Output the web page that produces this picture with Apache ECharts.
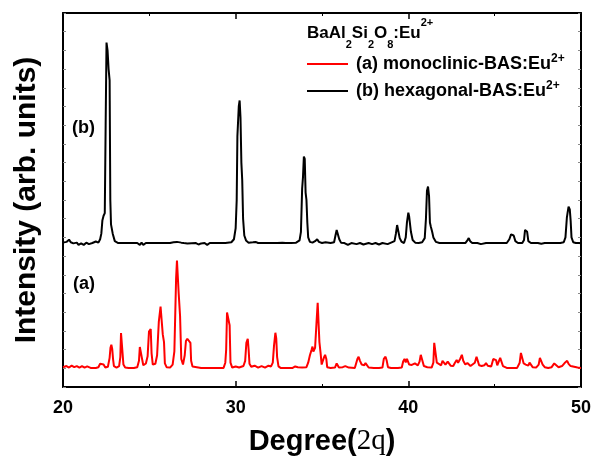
<!DOCTYPE html>
<html>
<head>
<meta charset="utf-8">
<script src="https://cdn.jsdelivr.net/npm/echarts@6/dist/echarts.min.js"></script>
<style>
  html, body { margin: 0; padding: 0; background: #fff; }
  #chart { width: 593px; height: 456px; }
</style>
</head>
<body>
<div id="chart"></div>
<script>
// x range (degree 2theta) and tick labels
const degreeTicks = [20, 30, 40, 50];

// (a) monoclinic-BAS:Eu2+ pattern, [degree, intensity] (offset as in the figure)
const monoclinic = [
  [20.0,5.3],[20.2,5.6],[20.35,5.2],[20.5,5.7],[20.65,5.3],[20.8,5.6],[20.95,5.2],[21.1,5.6],[21.25,5.2],[21.4,5.5],
  [21.6,5.1],[21.9,5.1],[22.05,5.3],[22.15,6.2],[22.25,6.5],[22.35,6.0],[22.45,5.2],[22.6,5.4],[22.7,7.8],[22.75,10.5],
  [22.8,11.3],[22.85,10.2],[22.9,7.4],[22.95,5.6],[23.1,5.2],[23.25,5.6],[23.32,8.0],[23.36,14.4],[23.45,14.4],[23.5,6.0],
  [23.6,5.2],[23.8,5.1],[24.1,5.1],[24.3,5.3],[24.4,7.0],[24.45,10.7],[24.52,10.5],[24.58,7.5],[24.65,5.8],[24.8,6.3],
  [24.9,8.2],[24.98,14.8],[25.08,15.5],[25.13,9.0],[25.2,6.0],[25.35,6.2],[25.45,8.5],[25.55,17.5],[25.65,21.5],[25.72,21.2],
  [25.78,14.0],[25.85,12.0],[25.9,6.3],[26.0,5.3],[26.2,5.2],[26.35,6.0],[26.45,9.5],[26.55,29.0],[26.6,33.8],[26.65,33.8],
  [26.7,25.0],[26.78,19.0],[26.85,7.5],[26.95,6.0],[27.05,8.5],[27.12,12.3],[27.2,12.9],[27.3,12.6],[27.38,11.8],[27.42,7.0],
  [27.5,5.5],[27.6,5.2],[28.0,5.1],[28.6,5.1],[29.3,5.1],[29.4,6.5],[29.45,10.0],[29.5,19.9],[29.6,19.5],[29.65,16.5],
  [29.7,6.5],[29.8,5.2],[30.0,5.5],[30.2,5.2],[30.45,5.6],[30.55,7.0],[30.62,11.8],[30.7,12.9],[30.75,10.0],[30.8,6.2],
  [30.9,5.4],[31.1,5.7],[31.3,5.2],[31.5,5.6],[31.7,5.2],[31.9,5.7],[32.05,5.5],[32.15,6.5],[32.22,11.0],[32.3,14.5],
  [32.35,13.0],[32.4,8.0],[32.48,5.5],[32.6,5.1],[33.0,5.1],[33.3,5.1],[33.45,5.5],[33.6,5.3],[33.85,5.2],[34.1,5.3],
  [34.2,6.5],[34.3,8.5],[34.4,10.0],[34.45,10.8],[34.5,9.5],[34.6,10.5],[34.68,17.0],[34.75,22.5],[34.8,22.0],[34.85,12.0],
  [34.92,9.0],[34.98,6.0],[35.05,5.6],[35.12,8.0],[35.18,8.6],[35.25,7.5],[35.3,5.3],[35.5,5.1],[35.75,5.2],[35.85,6.3],
  [35.92,6.3],[35.98,5.2],[36.2,5.3],[36.35,5.6],[36.45,5.6],[36.55,5.2],[36.9,5.1],[37.0,5.5],[37.05,7.5],[37.12,8.1],
  [37.2,7.0],[37.3,6.0],[37.45,5.8],[37.52,6.4],[37.6,6.0],[37.7,5.2],[38.0,5.1],[38.3,5.1],[38.5,5.2],[38.58,7.5],
  [38.68,8.1],[38.75,7.0],[38.82,5.3],[39.0,5.1],[39.4,5.1],[39.62,5.2],[39.7,6.8],[39.78,7.5],[39.85,6.6],[39.92,7.5],
  [40.0,7.4],[40.05,6.0],[40.2,5.9],[40.3,5.6],[40.38,6.3],[40.45,6.5],[40.55,5.8],[40.65,6.8],[40.72,8.6],[40.82,8.4],
  [40.9,5.6],[41.1,5.3],[41.35,5.2],[41.45,6.5],[41.5,11.8],[41.6,11.6],[41.65,6.5],[41.75,6.0],[41.9,5.8],[41.98,7.0],
  [42.05,7.2],[42.15,6.0],[42.28,6.8],[42.35,6.5],[42.45,5.7],[42.6,5.6],[42.7,6.5],[42.8,7.2],[42.88,6.5],[43.0,7.5],
  [43.1,8.6],[43.18,7.0],[43.3,6.0],[43.42,6.4],[43.5,6.0],[43.6,5.6],[43.85,6.5],[43.95,8.1],[44.02,7.6],[44.1,5.8],
  [44.25,5.6],[44.4,5.8],[44.5,6.4],[44.6,5.7],[44.8,5.5],[44.92,7.5],[45.0,8.0],[45.08,7.2],[45.15,5.8],[45.25,6.0],
  [45.32,7.8],[45.4,7.5],[45.48,5.6],[45.7,5.1],[46.3,5.1],[46.45,6.5],[46.52,9.1],[46.6,8.8],[46.68,6.3],[46.8,6.0],
  [46.95,5.7],[47.02,6.5],[47.1,6.2],[47.2,5.3],[47.4,5.2],[47.55,6.0],[47.62,7.8],[47.7,8.1],[47.78,6.0],[47.9,5.3],
  [48.1,5.1],[48.3,5.3],[48.45,6.3],[48.55,6.0],[48.7,5.3],[48.9,5.6],[49.05,6.4],[49.12,6.0],[49.2,7.0],[49.28,6.2],
  [49.4,5.6],[49.5,5.9],[49.6,5.4],[49.8,5.2],[50.0,5.1]
];

// (b) hexagonal-BAS:Eu2+ pattern, [degree, intensity] (offset as in the figure)
const hexagonal = [
  [20.0,38.6],[20.2,38.8],[20.35,39.4],[20.45,38.7],[20.6,38.4],[20.8,38.6],[20.9,38.0],[21.05,38.4],[21.2,38.0],[21.35,38.6],
  [21.5,38.2],[21.7,38.5],[21.9,38.9],[22.05,38.6],[22.15,39.5],[22.22,41.0],[22.28,44.5],[22.35,45.8],[22.42,46.5],[22.47,70.0],
  [22.52,92.1],[22.58,90.0],[22.64,85.0],[22.7,82.0],[22.74,50.0],[22.78,43.5],[22.88,41.0],[23.0,39.0],[23.2,38.5],[23.6,38.5],
  [24.0,38.5],[24.3,38.5],[24.45,38.0],[24.55,38.6],[24.65,38.0],[24.8,38.5],[25.2,38.5],[25.5,38.5],[25.6,39.0],[25.7,38.5],
  [26.2,38.5],[26.4,38.7],[26.5,39.2],[26.6,38.8],[26.7,39.2],[26.85,38.6],[27.0,38.5],[27.2,38.4],[27.7,38.5],[27.85,38.1],
  [28.0,38.4],[28.2,38.5],[28.35,38.0],[28.5,38.5],[28.7,38.5],[29.0,38.5],[29.4,38.5],[29.75,38.7],[29.9,39.5],[30.0,42.5],
  [30.06,50.0],[30.1,67.0],[30.18,75.0],[30.23,76.6],[30.28,72.0],[30.33,60.0],[30.38,55.3],[30.43,45.0],[30.5,40.5],[30.6,39.2],
  [30.75,38.6],[30.85,39.1],[31.0,38.7],[31.15,38.8],[31.3,38.5],[31.6,38.5],[32.0,38.5],[32.4,38.5],[32.5,38.3],[32.7,38.6],
  [32.8,38.2],[32.9,38.5],[33.2,38.5],[33.5,38.6],[33.7,39.2],[33.78,41.5],[33.85,53.0],[33.9,56.2],[33.95,61.6],[34.0,61.0],
  [34.05,52.0],[34.1,50.0],[34.15,44.0],[34.2,40.0],[34.3,38.8],[34.45,38.6],[34.6,39.0],[34.72,39.5],[34.82,38.8],[35.0,38.5],
  [35.2,38.7],[35.3,38.3],[35.5,38.5],[35.7,38.7],[35.78,40.5],[35.85,42.0],[35.92,41.8],[36.0,39.5],[36.1,38.6],[36.3,38.5],
  [36.5,38.0],[36.7,38.5],[37.0,38.2],[37.2,38.5],[37.4,38.1],[37.7,38.5],[37.9,38.2],[38.1,38.5],[38.3,38.1],[38.5,38.5],
  [38.8,38.2],[39.0,38.6],[39.2,39.0],[39.28,41.0],[39.35,43.3],[39.42,43.0],[39.5,39.8],[39.6,38.9],[39.75,38.5],[39.85,40.0],
  [39.92,44.0],[40.0,46.6],[40.05,45.5],[40.1,45.2],[40.15,41.5],[40.25,39.3],[40.4,38.6],[40.6,38.5],[40.8,38.7],[40.95,39.8],
  [41.02,45.0],[41.08,52.5],[41.14,53.6],[41.2,51.0],[41.25,44.0],[41.3,42.9],[41.38,41.5],[41.45,40.0],[41.6,38.8],[41.8,38.5],
  [42.2,38.5],[42.6,38.5],[43.0,38.5],[43.3,38.5],[43.42,39.2],[43.5,39.8],[43.58,39.0],[43.7,38.5],[44.0,38.5],[44.2,38.2],
  [44.5,38.5],[44.9,38.5],[45.3,38.5],[45.7,38.5],[45.85,39.5],[45.95,40.8],[46.03,41.3],[46.1,40.5],[46.2,39.0],[46.35,38.5],
  [46.6,38.5],[46.7,39.3],[46.76,42.0],[46.82,42.4],[46.88,41.5],[46.95,39.0],[47.1,38.5],[47.5,38.5],[47.7,38.3],[47.9,38.5],
  [48.0,38.1],[48.2,38.5],[48.5,38.5],[48.8,38.5],[49.0,38.7],[49.1,40.0],[49.18,45.2],[49.22,46.5],[49.28,48.2],[49.35,47.5],
  [49.4,44.5],[49.45,40.0],[49.55,38.7],[49.7,38.5],[49.8,38.1],[49.9,38.5],[50.0,38.4]
];

const seriesNames = ['(a) monoclinic-BAS:Eu2+', '(b) hexagonal-BAS:Eu2+'];

const font = '"Liberation Sans", Arial, sans-serif';

const chart = echarts.init(document.getElementById('chart'));

const frameAxis = {
  min: 0,
  max: 100,
  interval: 5,
  axisLine: { show: true, onZero: false, lineStyle: { color: '#000', width: 2 } },
  axisTick: { show: true, inside: true, length: 3, lineStyle: { color: '#888', width: 1 } },
  axisLabel: { show: false },
  splitLine: { show: false },
};

const degreeAxis = {
  type: 'value',
  min: 20,
  max: 50,
  interval: 10,
  axisLine: { show: true, onZero: false, lineStyle: { color: '#000', width: 2 } },
  axisTick: { show: true, inside: true, length: 6, lineStyle: { color: '#000', width: 1.5 } },
  minorTick: { show: true, splitNumber: 2, length: 3, lineStyle: { color: '#000', width: 1 } },
  splitLine: { show: false },
};

const option = {
  animation: false,
  backgroundColor: '#fff',
  grid: { left: 63, right: 12, top: 13, bottom: 69, outerBoundsMode: 'none', containLabel: false },
  legend: {
    data: seriesNames,
    orient: 'vertical',
    left: 307,
    top: 53,
    padding: 0,
    itemGap: 7,
    itemWidth: 41,
    itemHeight: 2,
    icon: 'rect',
    formatter: function (name) {
      return '{t|' + name.replace('2+', '') + '}{sup|2+}';
    },
    textStyle: {
      padding: [0, 0, 0, 3],
      rich: {
        t: { fontFamily: font, fontSize: 18, fontWeight: 'bold', color: '#000', lineHeight: 22 },
        sup: { fontFamily: font, fontSize: 12, fontWeight: 'bold', color: '#000', lineHeight: 12, verticalAlign: 'top' },
      },
    },
  },
  xAxis: [
    Object.assign({}, degreeAxis, {
      position: 'bottom',
      name: '{s|Degree(}{q|2q}{s|)}',
      nameLocation: 'middle',
      nameGap: 40,
      nameTextStyle: {
        rich: {
          s: { fontFamily: font, fontSize: 29, fontWeight: 'bold', color: '#000' },
          q: { fontFamily: '"Liberation Serif", "Times New Roman", serif', fontSize: 29, color: '#000' },
        },
      },
      axisLabel: {
        show: true,
        margin: 12,
        fontFamily: font,
        fontSize: 18,
        fontWeight: 'bold',
        color: '#000',
        formatter: function (v) { return degreeTicks.indexOf(v) >= 0 ? String(v) : ''; },
      },
    }),
    Object.assign({}, degreeAxis, { position: 'top', axisLabel: { show: false } }),
  ],
  yAxis: [
    Object.assign({}, frameAxis, {
      position: 'left',
      name: 'Intensity (arb. units)',
      nameLocation: 'middle',
      nameGap: 21,
      nameTextStyle: { fontFamily: font, fontSize: 30, fontWeight: 'bold', color: '#000' },
    }),
    Object.assign({}, frameAxis, { position: 'right' }),
  ],
  graphic: [
    {
      type: 'text',
      left: 307,
      top: 17,
      style: {
        text: '{b|BaAl}{sub|2}{b|Si}{sub|2}{b|O}{sub|8}{b|:Eu}{sup|2+}',
        rich: {
          b: { fontFamily: font, fontSize: 17, fontWeight: 'bold', fill: '#000', lineHeight: 33 },
          sub: { fontFamily: font, fontSize: 11, fontWeight: 'bold', fill: '#000', lineHeight: 16, verticalAlign: 'bottom' },
          sup: { fontFamily: font, fontSize: 11, fontWeight: 'bold', fill: '#000', lineHeight: 18, verticalAlign: 'top' },
        },
      },
    },
    {
      type: 'text',
      left: 72,
      top: 119,
      style: { text: '(b)', fontFamily: font, fontSize: 18, fontWeight: 'bold', fill: '#000' },
    },
    {
      type: 'text',
      left: 73,
      top: 275,
      style: { text: '(a)', fontFamily: font, fontSize: 18, fontWeight: 'bold', fill: '#000' },
    },
  ],
  series: [
    {
      name: seriesNames[0],
      type: 'line',
      data: monoclinic,
      symbol: 'none',
      color: '#ff0000',
      lineStyle: { color: '#ff0000', width: 2 },
      z: 3,
    },
    {
      name: seriesNames[1],
      type: 'line',
      data: hexagonal,
      symbol: 'none',
      color: '#000000',
      lineStyle: { color: '#000000', width: 2 },
      z: 3,
    },
  ],
};

chart.setOption(option);
</script>
</body>
</html>
